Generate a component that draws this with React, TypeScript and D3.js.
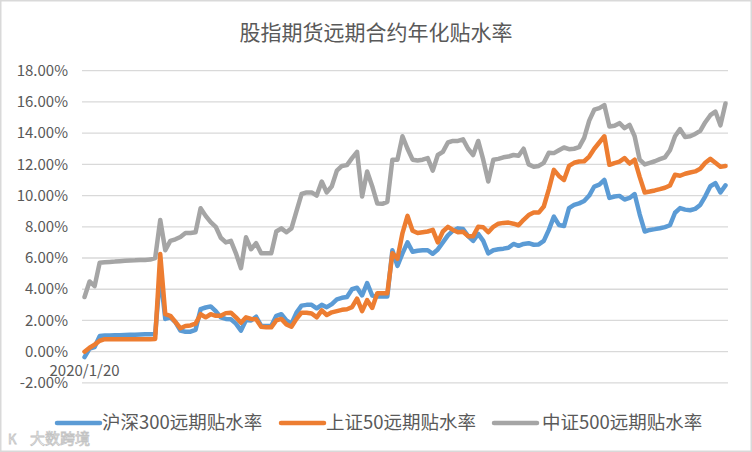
import React from "react";
import * as d3 from "d3";

const title = "股指期货远期合约年化贴水率";
const seriesNames = ["沪深300远期贴水率", "上证50远期贴水率", "中证500远期贴水率"];
const seriesColors = ["#5b9bd5", "#ed7d31", "#a5a5a5"];
const yTicks = [-2, 0, 2, 4, 6, 8, 10, 12, 14, 16, 18];
const xTickLabels = ["2020/1/20"];

const hs300 = [
  -0.35, 0.2, 0.3, 1.0, 1.03, 1.04, 1.05, 1.06, 1.07, 1.08, 1.09, 1.1, 1.11, 1.12, 1.13, 5.0,
  2.1, 2.2, 1.9, 1.35, 1.28, 1.28, 1.4, 2.72, 2.83, 2.9, 2.6, 2.2, 2.1, 2.08, 1.8, 1.35,
  2.03, 2.0, 2.24, 1.65, 1.65, 1.65, 2.3, 2.4, 2.0, 1.8, 2.5, 2.95, 3.0, 3.0, 2.78, 3.0,
  2.85, 3.05, 3.35, 3.45, 3.5, 4.0, 4.1, 3.6, 4.4, 3.6, 3.53, 3.53, 3.53, 6.5, 5.5, 6.3,
  7.0, 6.4, 6.47, 6.5, 6.5, 6.27, 6.55, 7.0, 7.45, 7.75, 7.9, 7.86, 7.4, 7.1, 7.55, 7.1,
  6.3, 6.5, 6.56, 6.6, 6.66, 6.9, 6.78, 6.9, 6.95, 6.85, 6.87, 7.1, 7.8, 8.65, 8.12, 8.05,
  9.2, 9.4, 9.5, 9.65, 10.0, 10.58, 10.7, 11.0, 9.85, 9.94, 9.98, 9.75, 9.85, 10.1, 8.8, 7.7,
  7.8, 7.85, 7.91, 7.98, 8.1, 8.9, 9.2, 9.1, 9.06, 9.15, 9.4, 9.95, 10.6, 10.8, 10.2, 10.65,
];

const sz50 = [
  0.0, 0.25, 0.45, 0.7, 0.8, 0.8, 0.8, 0.8, 0.8, 0.8, 0.8, 0.8, 0.8, 0.8, 0.82, 6.26,
  2.4, 2.3, 1.9, 1.5, 1.65, 1.68, 1.8, 2.4, 2.2, 2.4, 2.3, 2.3, 2.47, 2.5, 2.2, 1.85,
  2.2, 2.1, 2.08, 1.6, 1.56, 1.56, 2.0, 2.1, 1.75, 1.6, 2.1, 2.5, 2.5, 2.45, 2.2, 2.65,
  2.35, 2.52, 2.6, 2.68, 2.72, 2.85, 3.4, 2.6, 3.3, 2.8, 3.74, 3.74, 3.74, 6.3, 5.95, 7.6,
  8.7, 7.75, 7.6, 7.65, 7.7, 7.8, 7.0, 7.7, 8.0, 7.8, 7.65, 7.68, 7.4, 7.4, 8.0, 7.97,
  7.65, 8.0, 8.2, 8.25, 8.27, 8.2, 8.1, 8.45, 8.75, 8.91, 8.91, 9.3, 10.4, 11.65, 11.26, 11.0,
  11.9, 12.1, 12.18, 12.2, 12.5, 13.0, 13.4, 13.8, 11.97, 12.08, 12.17, 12.4, 12.05, 12.3, 11.2, 10.2,
  10.26, 10.33, 10.41, 10.5, 10.65, 11.33, 11.27, 11.4, 11.48, 11.55, 11.72, 12.1, 12.35, 12.1, 11.84, 11.9,
];

const zz500 = [
  3.5, 4.5, 4.2, 5.7, 5.73, 5.75, 5.77, 5.8, 5.82, 5.84, 5.85, 5.87, 5.88, 5.9, 6.0, 8.44,
  6.5, 7.1, 7.2, 7.35, 7.6, 7.6, 7.65, 9.19, 8.7, 8.3, 8.0, 7.3, 7.0, 7.1, 6.3, 5.35,
  7.33, 6.56, 6.95, 6.3, 6.3, 6.3, 7.7, 7.9, 7.65, 7.9, 9.0, 10.1, 10.2, 10.2, 10.0, 10.9,
  10.2, 10.6, 11.6, 11.9, 11.95, 12.4, 12.8, 9.94, 11.54, 10.6, 9.5, 9.47, 9.6, 12.3, 12.3, 13.8,
  13.0, 12.3, 12.25, 12.3, 12.4, 11.6, 12.6, 12.8, 13.4, 13.5, 13.5, 13.6, 13.0, 12.6, 13.5, 12.3,
  10.9, 12.3, 12.35, 12.45, 12.5, 12.6, 12.55, 13.0, 12.0, 11.85, 11.9, 12.1, 12.75, 12.72, 12.9, 13.08,
  12.97, 13.0, 13.1, 13.7, 14.8, 15.5, 15.6, 15.8, 14.42, 14.47, 14.64, 14.32, 14.53, 13.8, 12.3, 12.0,
  12.1, 12.2, 12.33, 12.45, 12.9, 13.8, 14.26, 13.75, 13.8, 13.95, 14.15, 14.7, 15.15, 15.38, 14.5, 15.9,
];

const allSeries = [hs300, sz50, zz500];

const W = 752;
const H = 452;
const FONT = "'Noto Sans CJK SC', 'DejaVu Sans', sans-serif";

export default function App() {
  const n = hs300.length;
  const x = d3
    .scaleBand<number>()
    .domain(d3.range(n))
    .range([82, 728])
    .padding(0);
  const cx = (i: number) => (x(i) as number) + x.bandwidth() / 2;
  const y = d3.scaleLinear().domain([-2, 18]).range([382.9, 70.7]);

  const line = d3
    .line<number>()
    .x((_, i) => cx(i))
    .y((d) => y(d));

  const legendItems = [
    { lx: 57, tx: 102 },
    { lx: 281, tx: 326 },
    { lx: 494, tx: 542 },
  ];

  return (
    <svg
      width={W}
      height={H}
      style={{ position: "absolute", left: 0, top: 0, background: "#fff" }}
      fontFamily={FONT}
    >
      <rect x={0} y={0} width={W} height={H} fill="#fff" />
      <rect x={0.75} y={0.75} width={W - 1.5} height={H - 1.5} fill="none" stroke="#d9d9d9" strokeWidth={1.5} />
      <text x={376} y={40} textAnchor="middle" fontSize={21} fill="#595959">
        {title}
      </text>
      {yTicks.map((t) => (
        <g key={t}>
          <line x1={82} x2={728} y1={y(t)} y2={y(t)} stroke="#d9d9d9" strokeWidth={1.3} />
          <text x={68} y={y(t)} dy="0.35em" textAnchor="end" fontSize={15} fill="#595959">
            {t.toFixed(2) + "%"}
          </text>
        </g>
      ))}
      {xTickLabels.map((lab, i) => (
        <text key={lab} x={cx(i)} y={y(0) + 24} textAnchor="middle" fontSize={15} fill="#595959">
          {lab}
        </text>
      ))}
      {allSeries.map((s, k) => (
        <path
          key={k}
          d={line(s) || ""}
          fill="none"
          stroke={seriesColors[k]}
          strokeWidth={4.5}
          strokeLinejoin="round"
          strokeLinecap="round"
        />
      ))}
      {seriesNames.map((name, k) => (
        <g key={name}>
          <line
            x1={legendItems[k].lx}
            x2={legendItems[k].lx + 43}
            y1={423}
            y2={423}
            stroke={seriesColors[k]}
            strokeWidth={4.5}
            strokeLinecap="round"
          />
          <text x={legendItems[k].tx} y={423} dy="0.35em" fontSize={18.5} fill="#595959">
            {name}
          </text>
        </g>
      ))}
      <g opacity={0.9}>
        <text x={8} y={444} fontSize={13} fill="#fff" stroke="#bdbdbd" strokeWidth={0.8}>
          K
        </text>
        <text x={30} y={444} fontSize={15} fill="#fff" stroke="#bdbdbd" strokeWidth={0.8}>
          大数跨境
        </text>
      </g>
    </svg>
  );
}
